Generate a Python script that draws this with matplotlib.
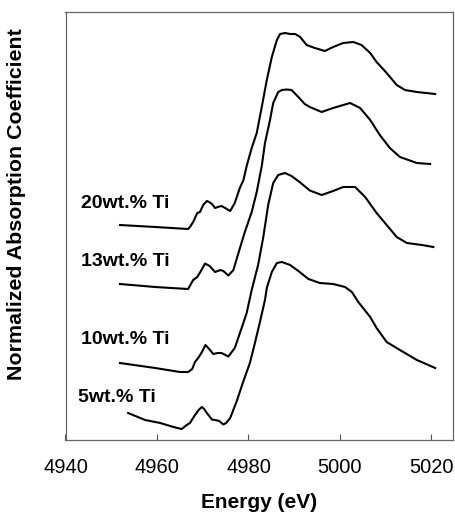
import matplotlib
matplotlib.use("Agg")
import matplotlib.pyplot as plt

plt.rcParams['font.family'] = ['Liberation Sans', 'DejaVu Sans']

# Energy (eV) and normalized absorption (arbitrary, offset) for each sample
e_20 = [4951.9, 4959.6, 4966.8, 4967.2, 4967.9, 4968.3, 4968.8, 4969.4, 4970.1, 4970.9,
        4971.4, 4972.0, 4972.7, 4973.3, 4974.1, 4974.9, 4976.0, 4977.0, 4978.1, 4978.9,
        4979.6, 4980.7, 4981.8, 4982.9, 4984.0, 4985.1, 4986.2, 4986.9, 4988.0, 4989.1,
        4990.2, 4991.3, 4992.7, 4994.5, 4996.7, 4998.5, 5000.7, 5002.9, 5004.7, 5006.6,
        5008.0, 5010.2, 5012.4, 5014.2, 5016.8, 5020.8]
a_20 = [2.15, 2.13, 2.11, 2.13, 2.18, 2.22, 2.27, 2.28, 2.35, 2.39,
        2.38, 2.36, 2.32, 2.33, 2.34, 2.32, 2.29, 2.37, 2.52, 2.60,
        2.74, 2.92, 3.07, 3.33, 3.60, 3.83, 4.00, 4.06, 4.07, 4.06,
        4.06, 4.03, 3.95, 3.92, 3.89, 3.93, 3.97, 3.98, 3.95, 3.87,
        3.78, 3.67, 3.55, 3.50, 3.48, 3.46]

e_13 = [4951.9, 4959.6, 4966.8, 4967.9, 4968.8, 4969.6, 4970.5, 4971.5, 4972.7, 4973.9,
        4974.5, 4975.6, 4976.7, 4977.8, 4979.2, 4980.7, 4981.8, 4982.9, 4983.6, 4984.7,
        4985.4, 4986.5, 4987.3, 4988.4, 4989.4, 4990.9, 4992.3, 4993.4, 4996.0, 4998.5,
        5002.2, 5004.4, 5006.6, 5008.7, 5010.9, 5013.1, 5016.8, 5019.7]
a_13 = [1.56, 1.53, 1.51, 1.60, 1.63, 1.69, 1.765, 1.74, 1.68, 1.70,
        1.69, 1.645, 1.70, 1.87, 2.08, 2.28, 2.48, 2.74, 2.97, 3.20,
        3.37, 3.48, 3.50, 3.505, 3.50, 3.43, 3.36, 3.33, 3.28, 3.32,
        3.37, 3.32, 3.20, 3.05, 2.92, 2.83, 2.77, 2.76]

e_10 = [4951.9, 4959.6, 4965.0, 4966.8, 4967.7, 4968.3, 4969.0, 4969.7, 4970.6, 4971.6,
        4972.3, 4973.3, 4974.1, 4975.6, 4977.0, 4978.5, 4979.6, 4980.7, 4982.1, 4983.2,
        4984.3, 4985.4, 4986.5, 4988.0, 4989.4, 4991.3, 4993.4, 4996.0, 4998.5, 5000.7,
        5003.3, 5005.5, 5008.0, 5010.2, 5012.4, 5014.6, 5017.9, 5020.4]
a_10 = [0.77, 0.72, 0.68, 0.68, 0.71, 0.78, 0.82, 0.87, 0.95, 0.90,
        0.86, 0.87, 0.87, 0.835, 0.92, 1.12, 1.27, 1.50, 1.75, 2.02,
        2.35, 2.57, 2.65, 2.67, 2.64, 2.575, 2.495, 2.45, 2.49, 2.53,
        2.53, 2.43, 2.27, 2.15, 2.03, 1.97, 1.95, 1.93]

e_5 = [4953.7, 4957.4, 4960.7, 4963.6, 4965.4, 4966.5, 4967.2, 4968.3, 4969.1, 4969.8,
       4970.3, 4970.9, 4972.0, 4973.0, 4973.6, 4974.5, 4975.1, 4976.0, 4977.4, 4978.9,
       4980.3, 4981.4, 4982.5, 4983.6, 4984.0, 4985.1, 4986.2, 4987.3, 4989.1, 4990.9,
       4993.1, 4995.6, 4998.5, 5001.1, 5002.6, 5004.0, 5006.6, 5008.0, 5010.2, 5013.1,
       5016.8, 5020.8]
a_5 = [0.27, 0.20, 0.17, 0.13, 0.11, 0.15, 0.17, 0.25, 0.30, 0.33,
       0.31, 0.27, 0.205, 0.197, 0.19, 0.155, 0.17, 0.22, 0.385, 0.59,
       0.77, 0.97, 1.18, 1.40, 1.52, 1.68, 1.77, 1.78, 1.75, 1.69,
       1.61, 1.57, 1.56, 1.53, 1.48, 1.38, 1.23, 1.12, 0.98, 0.90,
       0.80, 0.72]

labels = ["20wt.% Ti", "13wt.% Ti", "10wt.% Ti", "5wt.% Ti"]
label_pos = [(4943.3, 2.37), (4943.3, 1.78), (4943.3, 1.00), (4942.8, 0.43)]
xticks = [4940, 4960, 4980, 5000, 5020]

fig = plt.figure(figsize=(4.55, 5.15), dpi=100)
ax = fig.add_axes([65.5 / 455, 75 / 515, 387.5 / 455, 428 / 515])

for e, a in [(e_20, a_20), (e_13, a_13), (e_10, a_10), (e_5, a_5)]:
    ax.plot(e, a, color='black', lw=1.5, solid_joinstyle='round')

for lab, (x, y) in zip(labels, label_pos):
    ax.text(x, y, lab, fontsize=14, fontweight='bold', ha='left', va='center')

ax.set_xlim(4940, 5024.7)
ax.set_ylim(0, 4.28)
ax.set_xticks(xticks)
ax.set_xticklabels([str(t) for t in xticks], fontsize=14.5)
ax.set_yticks([])
ax.tick_params(axis='x', direction='in', length=4, width=0.8, color='#555555', pad=13)
for s in ax.spines.values():
    s.set_color('#666666')
    s.set_linewidth(0.9)

fig.text((65.5 + 453) / 2 / 455, 1 - 503 / 515, "Energy (eV)",
         fontsize=15, fontweight='bold', ha='center', va='center')
fig.text(17 / 455, 1 - 204 / 515, "Normalized Absorption Coefficient", rotation=90,
         fontsize=15.4, fontweight='bold', ha='center', va='center')

fig.savefig("out.png", dpi=100)
